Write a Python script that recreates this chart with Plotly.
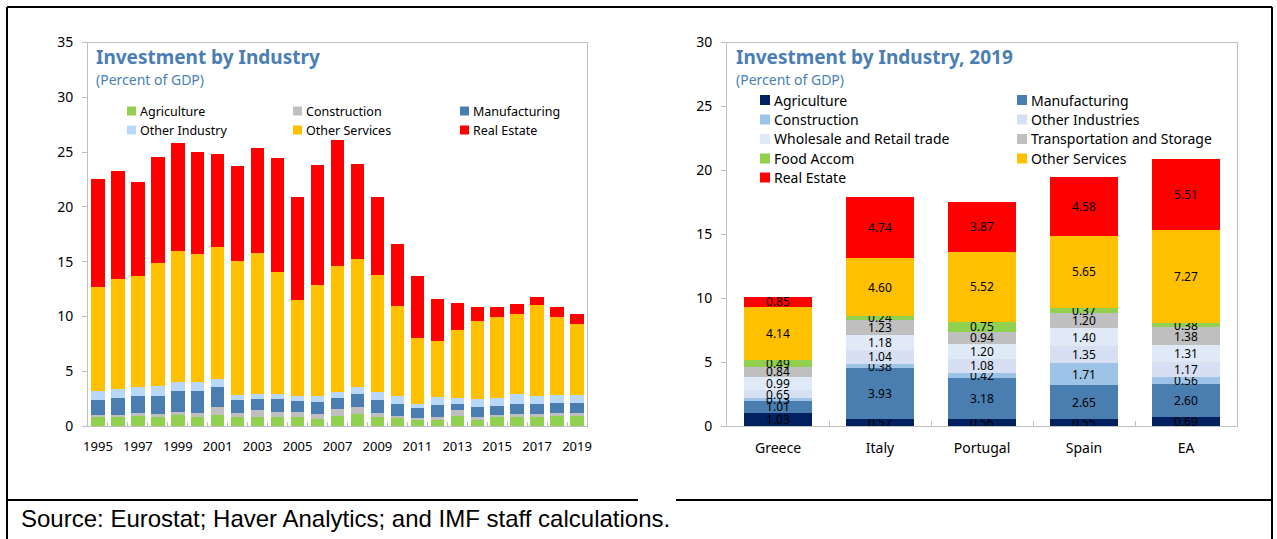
import plotly.graph_objects as go

W, H = 1277, 539

# ---------------- Left chart data (percent of GDP) ----------------
years = [str(y) for y in range(1995, 2020)]
year_labels = [y if i % 2 == 0 else "" for i, y in enumerate(years)]

l_agriculture = [0.80, 0.80, 0.90, 0.85, 1.00, 0.85, 1.00, 0.80, 0.85, 0.85, 0.85, 0.67, 0.95,
                 1.07, 0.85, 0.85, 0.67, 0.58, 0.94, 0.67, 0.79, 0.94, 0.94, 0.98, 1.03]
l_construction = [0.20, 0.20, 0.25, 0.25, 0.25, 0.37, 0.70, 0.40, 0.58, 0.43, 0.43, 0.46, 0.60,
                  0.64, 0.34, 0.09, 0.09, 0.27, 0.52, 0.18, 0.19, 0.16, 0.13, 0.18, 0.13]
l_manufacturing = [1.35, 1.53, 1.60, 1.67, 1.90, 1.93, 1.83, 1.16, 1.00, 1.22, 0.98, 1.10, 0.98,
                   1.24, 1.22, 1.10, 0.89, 1.10, 0.58, 0.92, 0.85, 0.91, 0.97, 0.97, 0.97]
l_other_industry = [0.85, 0.88, 0.85, 0.90, 0.90, 0.87, 0.74, 0.48, 0.50, 0.45, 0.51, 0.54, 0.55,
                    0.61, 0.67, 0.73, 0.33, 0.70, 0.49, 0.73, 0.76, 0.92, 0.73, 0.70, 0.70]
l_other_services = [9.45, 10.03, 10.10, 11.25, 11.90, 11.67, 12.06, 12.25, 12.90, 11.06, 8.69, 10.12, 11.48,
                    11.67, 10.69, 8.20, 6.06, 5.12, 6.22, 7.07, 7.34, 7.31, 8.26, 7.16, 6.49]
l_real_estate = [9.90, 9.84, 8.60, 9.60, 9.85, 9.36, 8.53, 8.62, 9.57, 10.46, 9.44, 10.91, 11.54,
                 8.69, 7.10, 5.64, 5.67, 3.81, 2.49, 1.31, 0.89, 0.85, 0.76, 0.89, 0.86]

left_names = ["Agriculture", "Construction", "Manufacturing", "Other Industry", "Other Services", "Real Estate"]
left_values = [l_agriculture, l_construction, l_manufacturing, l_other_industry, l_other_services, l_real_estate]
left_colors = ["#92D050", "#BFBFBF", "#4A7EB0", "#B9D8F8", "#FFC000", "#FF0000"]

# ---------------- Right chart data (2019, percent of GDP) ----------------
countries = ["Greece", "Italy", "Portugal", "Spain", "EA"]
r_agriculture = [1.03, 0.57, 0.56, 0.55, 0.69]
r_manufacturing = [1.01, 3.93, 3.18, 2.65, 2.60]
r_construction = [0.13, 0.38, 0.42, 1.71, 0.56]
r_other_industries = [0.65, 1.04, 1.08, 1.35, 1.17]
r_wholesale = [0.99, 1.18, 1.20, 1.40, 1.31]
r_transport = [0.84, 1.23, 0.94, 1.20, 1.38]
r_food = [0.49, 0.24, 0.75, 0.37, 0.38]
r_other_services = [4.14, 4.60, 5.52, 5.65, 7.27]
r_real_estate = [0.85, 4.74, 3.87, 4.58, 5.51]

right_names = ["Agriculture", "Manufacturing", "Construction", "Other Industries",
               "Wholesale and Retail trade", "Transportation and Storage", "Food Accom",
               "Other Services", "Real Estate"]
right_values = [r_agriculture, r_manufacturing, r_construction, r_other_industries,
                r_wholesale, r_transport, r_food, r_other_services, r_real_estate]
right_colors = ["#002060", "#4A7EB0", "#9DC3E6", "#D6E0F2", "#DFEAF6", "#BFBFBF",
                "#92D050", "#FFC000", "#FF0000"]

FONT = "Noto Sans"
TITLE_COLOR = "#4A7EB5"
AXIS_COLOR = "#BFBFBF"


def px(x):
    return x / W


def py(y):
    return 1 - y / H


fig = go.Figure()

for name, vals, col in zip(left_names, left_values, left_colors):
    fig.add_trace(go.Bar(x=years, y=vals, name=name, marker=dict(color=col, line=dict(width=0)),
                         xaxis="x", yaxis="y", showlegend=False))

for name, vals, col in zip(right_names, right_values, right_colors):
    fig.add_trace(go.Bar(x=countries, y=vals, name=name, marker=dict(color=col, line=dict(width=0)),
                         text=[f"{v:.2f}" for v in vals], textposition="inside",
                         insidetextanchor="middle", textangle=0,
                         textfont=dict(family=FONT, size=12, color="black"),
                         xaxis="x2", yaxis="y2", showlegend=False))

y_dom = [py(426), py(42.5)]

fig.update_layout(
    width=W, height=H,
    margin=dict(l=0, r=0, t=0, b=0, pad=0, autoexpand=False),
    paper_bgcolor="white", plot_bgcolor="white",
    barmode="stack", bargap=0.33,
    font=dict(family=FONT, size=13, color="#000000"),
    uniformtext=dict(minsize=12, mode="show"),
    xaxis=dict(domain=[px(88), px(587)], anchor="y", type="category",
               tickvals=years, ticktext=year_labels, tickangle=0,
               showline=True, linecolor=AXIS_COLOR, linewidth=1, mirror=True,
               ticks="inside", tickson="boundaries", ticklen=4, tickcolor=AXIS_COLOR,
               ticklabelstandoff=8, tickfont=dict(size=13), showgrid=False, automargin=False),
    yaxis=dict(domain=y_dom, anchor="x", range=[0, 35], dtick=5,
               showline=True, linecolor=AXIS_COLOR, linewidth=1, mirror=True,
               ticks="outside", ticklen=5, tickcolor=AXIS_COLOR, ticklabelstandoff=6,
               tickfont=dict(size=14), showgrid=False, zeroline=False, automargin=False),
    xaxis2=dict(domain=[px(727), px(1237)], anchor="y2", type="category",
                showline=True, linecolor=AXIS_COLOR, linewidth=1, mirror=True,
                ticks="inside", tickson="boundaries", ticklen=5, tickcolor=AXIS_COLOR,
                ticklabelstandoff=9, tickfont=dict(size=14), showgrid=False, automargin=False),
    yaxis2=dict(domain=y_dom, anchor="x2", range=[0, 30], dtick=5,
                showline=True, linecolor=AXIS_COLOR, linewidth=1, mirror=True,
                ticks="outside", ticklen=5, tickcolor=AXIS_COLOR, ticklabelstandoff=6,
                tickfont=dict(size=14), showgrid=False, zeroline=False, automargin=False),
)

annotations = []
shapes = []

# Titles
for x0, title in [(94, "Investment by Industry"), (734, "Investment by Industry, 2019")]:
    annotations.append(dict(text=f"<b>{title}</b>", x=px(x0), y=py(57), xref="paper", yref="paper",
                            xanchor="left", yanchor="middle", showarrow=False,
                            font=dict(family=FONT, size=19, color=TITLE_COLOR)))
    annotations.append(dict(text="(Percent of GDP)", x=px(x0), y=py(79), xref="paper", yref="paper",
                            xanchor="left", yanchor="middle", showarrow=False,
                            font=dict(family=FONT, size=14, color=TITLE_COLOR)))

# Left legend (2 rows x 3 columns)
left_cols_x = [127, 293, 460]
left_rows_y = [111, 130]
for i, (name, col) in enumerate(zip(left_names, left_colors)):
    cx = left_cols_x[i % 3]
    cy = left_rows_y[i // 3]
    shapes.append(dict(type="rect", xref="paper", yref="paper",
                       x0=px(cx), x1=px(cx + 9), y0=py(cy + 4.5), y1=py(cy - 4.5),
                       fillcolor=col, line=dict(width=0)))
    annotations.append(dict(text=name, x=px(cx + 10.5), y=py(cy), xref="paper", yref="paper",
                            xanchor="left", yanchor="middle", showarrow=False,
                            font=dict(family=FONT, size=12.5, color="#000000")))

# Right legend (5 rows x 2 columns)
right_cols_x = [760, 1017]
right_rows_y = [100, 119.5, 139, 158.5, 177.5]
for i, (name, col) in enumerate(zip(right_names, right_colors)):
    cx = right_cols_x[i % 2]
    cy = right_rows_y[i // 2]
    shapes.append(dict(type="rect", xref="paper", yref="paper",
                       x0=px(cx), x1=px(cx + 10), y0=py(cy + 5), y1=py(cy - 5),
                       fillcolor=col, line=dict(width=0)))
    annotations.append(dict(text=name, x=px(cx + 12), y=py(cy), xref="paper", yref="paper",
                            xanchor="left", yanchor="middle", showarrow=False,
                            font=dict(family=FONT, size=14, color="#000000")))

# Outer frame
frame = dict(color="black", width=2)
for (x0, y0, x1, y1) in [(7, 7, 1272, 7), (7, 7, 7, 539), (1272, 7, 1272, 539),
                         (7, 500, 638, 500), (676, 500, 1272, 500)]:
    shapes.append(dict(type="line", xref="paper", yref="paper",
                       x0=px(x0), y0=py(y0), x1=px(x1), y1=py(y1), line=frame))

# Source note
annotations.append(dict(text="Source: Eurostat; Haver Analytics; and IMF staff calculations.",
                        x=px(19), y=py(518), xref="paper", yref="paper",
                        xanchor="left", yanchor="middle", showarrow=False,
                        font=dict(family="Liberation Sans", size=24, color="black")))

fig.update_layout(annotations=annotations, shapes=shapes)

fig.write_html("out.html",
               config={"displayModeBar": False},
               post_script="document.body.style.margin='0px';document.body.style.overflow='hidden';")
